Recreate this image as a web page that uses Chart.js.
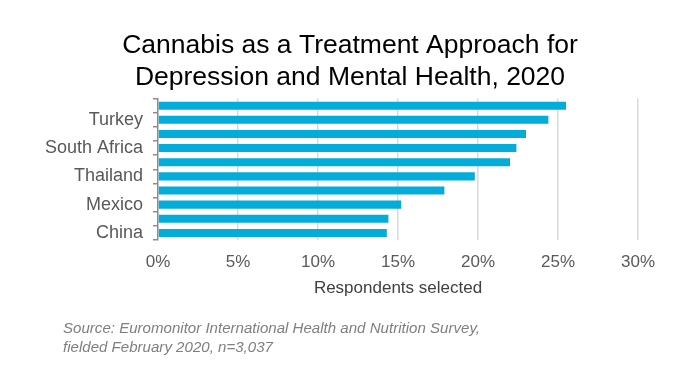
<!DOCTYPE html>
<html>
<head>
<meta charset="utf-8">
<script src="https://cdn.jsdelivr.net/npm/chart.js@4/dist/chart.umd.min.js"></script>
<style>
  html, body { margin: 0; padding: 0; background: #fff; }
  #wrap { position: relative; width: 690px; height: 367px; }
  #c { position: absolute; left: 0; top: 0; }
  .src { position: absolute; left: 63px; font-family: "Liberation Sans", Arial, sans-serif; font-style: italic;
         font-size: 15px; color: #7f7f7f; white-space: nowrap; transform-origin: 0 0; line-height: 1; }
</style>
</head>
<body>
<div id="wrap">
  <canvas id="c" width="690" height="367"></canvas>
  <div class="src" id="s1" style="top:320px">Source: Euromonitor International Health and Nutrition Survey,</div>
  <div class="src" id="s2" style="top:339px">fielded February 2020, n=3,037</div>
</div>
<script>
// Categories top-to-bottom; only every other label is shown in the original
const categories = ["", "Turkey", "", "South Africa", "", "Thailand", "", "Mexico", "", "China"];
const values = [25.5, 24.4, 23.0, 22.4, 22.0, 19.8, 17.9, 15.2, 14.4, 14.3];
const xTicks = [0, 5, 10, 15, 20, 25, 30];
const titleLines = ["Cannabis as a Treatment Approach for", "Depression and Mental Health, 2020"];
const xTitle = "Respondents selected";

// fit source lines to original widths
(function(){
  const s1 = document.getElementById('s1');
  const s2 = document.getElementById('s2');
  const w = s1.getBoundingClientRect().width;
  const k = 417 / w;
  s1.style.transform = 'scaleX(' + k + ')';
  s2.style.transform = 'scaleX(' + k + ')';
})();

const FONT = '"Liberation Sans", Arial, sans-serif';
new Chart(document.getElementById('c'), {
  type: 'bar',
  data: {
    labels: categories,
    datasets: [{
      data: values,
      backgroundColor: '#04ADD9',
      borderWidth: 0,
      categoryPercentage: 1,
      barPercentage: 0.57,
      yAxisID: 'y'
    }]
  },
  options: {
    indexAxis: 'y',
    responsive: false,
    animation: false,
    layout: { padding: { left: 10, right: 0, top: 0, bottom: 67 } },
    plugins: {
      legend: { display: false },
      tooltip: { enabled: false },
      title: {
        display: true,
        text: titleLines,
        color: '#000',
        font: { family: FONT, size: 26.5, weight: 'normal', lineHeight: 1.2 },
        padding: { top: 30, bottom: 5 }
      }
    },
    scales: {
      x: {
        min: 0, max: 30,
        afterBuildTicks: s => { s.ticks = xTicks.map(v => ({ value: v })); },
        afterFit: s => { s.height = 60; },
        ticks: {
          color: '#595959',
          font: { family: FONT, size: 17 },
          padding: 12,
          callback: v => v + '%'
        },
        grid: {
          color: ctx => ctx.index === 0 ? 'rgba(0,0,0,0)' : '#d9d9d9',
          lineWidth: 1.5,
          drawTicks: false
        },
        border: { display: false },
        title: {
          display: true,
          text: xTitle,
          color: '#404040',
          font: { family: FONT, size: 17 },
          padding: { top: 4, bottom: 1 }
        }
      },
      y: {
        position: 'left',
        afterFit: s => { s.width = 148; },
        ticks: {
          color: '#595959',
          font: { family: FONT, size: 18 },
          padding: 10,
          autoSkip: false
        },
        grid: {
          offset: true,
          drawOnChartArea: false,
          drawTicks: true,
          tickLength: 5,
          color: '#8c8c8c',
          lineWidth: 1.5
        },
        border: { display: true, color: '#8c8c8c', width: 1.5 }
      },
      yPad: {
        type: 'category',
        labels: categories,
        position: 'right',
        afterFit: s => { s.width = 52; },
        ticks: { display: false },
        grid: { display: false },
        border: { display: false }
      }
    }
  }
});
</script>
</body>
</html>
